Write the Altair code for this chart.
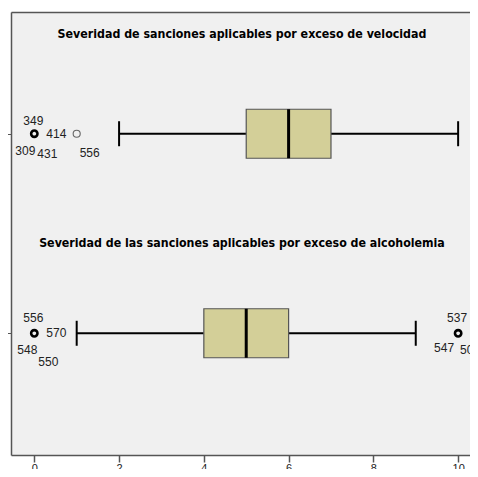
import altair as alt
import pandas as pd

categories = ["velocidad", "alcoholemia"]
titles = [
    "Severidad de sanciones aplicables por exceso de velocidad",
    "Severidad de las sanciones aplicables por exceso de alcoholemia",
]
q1 = [5, 4]
median = [6, 5]
q3 = [7, 6]
whisker_low = [2, 1]
whisker_high = [10, 9]

outlier_cat = ["velocidad", "velocidad", "alcoholemia", "alcoholemia"]
outlier_val = [0, 1, 0, 10]
outlier_multi = [True, False, True, True]

label_cat = ["velocidad"] * 5 + ["alcoholemia"] * 7
label_val = [0, 0, 0, 0, 1, 0, 0, 0, 0, 10, 10, 10]
label_txt = ["349", "414", "309", "431", "556", "556", "570", "548", "550", "537", "547", "502"]
# label placement (style only)
label_dx = [-1, 22, -9, 13, 13, -1, 22, -7, 14, -1, -14, 12]
label_dy = [-13, 0, 17, 20, 19, -15, 0, 17, 29, -15, 15, 17]

title_dy = [-100, -90]

boxes = pd.DataFrame({"cat": categories, "q1": q1, "med": median, "q3": q3,
                      "lo": whisker_low, "hi": whisker_high, "title": titles})
outl = pd.DataFrame({"cat": outlier_cat, "v": outlier_val, "multi": outlier_multi})
labs = pd.DataFrame({"cat": label_cat, "v": label_val, "t": label_txt})

xs = alt.Scale(domain=[-0.55, 10.28], nice=False, zero=False)
ys = alt.Scale(type="point", domain=categories, padding=0.61)

xaxis = alt.Axis(values=[0, 2, 4, 6, 8, 10], title=None, grid=False, tickSize=7,
                 tickColor="#555", domainColor="#555", domainWidth=1.5,
                 labelColor="#222", labelFont="Liberation Sans", labelFontSize=11,
                 labelPadding=0, tickWidth=1.5)
top_axis = alt.Axis(orient="top", title=None, grid=False, labels=False, ticks=False,
                    domainColor="#555", domainWidth=1.5)
yaxis = alt.Axis(title=None, labels=False, ticks=True, tickSize=4, tickColor="#555",
                 domainColor="#555", grid=False, domainWidth=1.5)

base = alt.Chart(boxes)
Y = alt.Y("cat:N", scale=ys, axis=yaxis)

w_lo = base.mark_rule(color="black", strokeWidth=2).encode(
    x=alt.X("lo:Q", scale=xs, axis=xaxis), x2="q1:Q", y=Y)
w_hi = base.mark_rule(color="black", strokeWidth=2).encode(
    x=alt.X("q3:Q", scale=xs, axis=top_axis), x2="hi:Q", y=Y)
box = base.mark_bar(size=49, color="#d3cf98", stroke="#555", strokeWidth=1.2, opacity=1).encode(
    x=alt.X("q1:Q", scale=xs, axis=None), x2="q3:Q", y=Y)
med = base.mark_tick(color="black", size=49, thickness=3, opacity=1).encode(
    x=alt.X("med:Q", scale=xs, axis=None), y=Y)
cap_lo = base.mark_tick(color="black", size=25, thickness=2, opacity=1).encode(
    x=alt.X("lo:Q", scale=xs, axis=None), y=Y)
cap_hi = base.mark_tick(color="black", size=25, thickness=2, opacity=1).encode(
    x=alt.X("hi:Q", scale=xs, axis=None), y=Y)

out_bold = alt.Chart(outl).transform_filter("datum.multi").mark_point(
    shape="circle", filled=False, size=40, color="black", strokeWidth=2.6, opacity=1).encode(
    x=alt.X("v:Q", scale=xs, axis=None), y=Y)
out_thin = alt.Chart(outl).transform_filter("!datum.multi").mark_point(
    shape="circle", filled=False, size=50, color="#666", strokeWidth=1.1, opacity=1).encode(
    x=alt.X("v:Q", scale=xs, axis=None), y=Y)

label_layers = []
for i in range(len(label_txt)):
    label_layers.append(
        alt.Chart(labs.iloc[[i]]).mark_text(
            font="Liberation Sans", fontSize=12, color="#222",
            dx=label_dx[i], dy=label_dy[i], baseline="middle", align="center"
        ).encode(x=alt.X("v:Q", scale=xs, axis=None), y=Y, text="t:N")
    )

title_layers = []
for i in range(len(titles)):
    title_layers.append(
        alt.Chart(boxes.iloc[[i]]).mark_text(
            font="DejaVu Sans Condensed", fontWeight="bold",
            fontSize=12.3, color="black",
            dy=title_dy[i], baseline="middle", align="center"
        ).encode(x=alt.value(231), y=Y, text="title:N")
    )

chart = alt.layer(w_lo, w_hi, box, med, cap_lo, cap_hi, out_bold, out_thin,
                  *label_layers, *title_layers).resolve_axis(x="independent").properties(
    width=459, height=443,
    autosize=alt.AutoSizeParams(type="none"),
    padding={"left": 3, "top": 4, "right": 0, "bottom": 14},
    background="white",
).configure_view(fill="#f0f0f0", stroke="transparent", strokeWidth=0)

chart.save("out.html", embed_options={"renderer": "svg", "actions": False})
